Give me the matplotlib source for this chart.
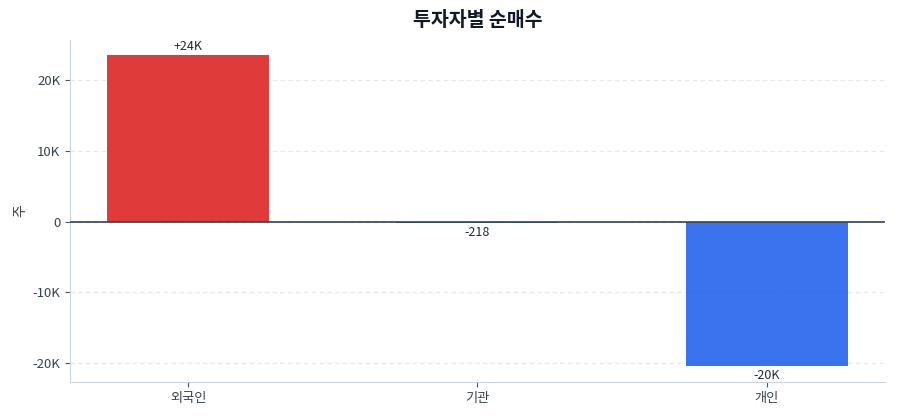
import matplotlib
matplotlib.use("Agg")
import matplotlib.pyplot as plt
from matplotlib.ticker import FuncFormatter

plt.rcParams['font.family'] = ['Noto Sans CJK KR', 'DejaVu Sans']

categories = ["외국인", "기관", "개인"]
values = [23500, -218, -20450]
bar_labels = ["+24K", "-218", "-20K"]

pos_color = "#dc2626"
neg_color = "#2563eb"

fig = plt.figure(figsize=(9, 4.2), dpi=100)
ax = fig.add_axes([0.078, 0.0905, 0.905, 0.8145])

colors = [pos_color if v >= 0 else neg_color for v in values]
x = range(len(categories))
bars = ax.bar(x, values, width=0.56, color=colors, alpha=0.9, zorder=2)
ax.axhline(0, color="#334155", linewidth=1.2, zorder=3)

for b, v, lab in zip(bars, values, bar_labels):
    if v >= 0:
        ax.annotate(lab, (b.get_x() + b.get_width() / 2, v), xytext=(0, 2),
                    textcoords="offset points", ha="center", va="bottom",
                    fontsize=9, color="#1f2937")
    else:
        ax.annotate(lab, (b.get_x() + b.get_width() / 2, v), xytext=(0, -2),
                    textcoords="offset points", ha="center", va="top",
                    fontsize=9, color="#1f2937")

ax.set_xticks(list(x))
ax.set_xticklabels(categories)

def kfmt(v, p):
    if v == 0:
        return "0"
    return f"{v/1000:.0f}K"
ax.yaxis.set_major_formatter(FuncFormatter(kfmt))
ax.set_yticks([-20000, -10000, 0, 10000, 20000])

ax.grid(axis="y", linestyle=(0, (4, 3)), color="#e5e7eb", linewidth=0.8, zorder=0)
ax.set_axisbelow(True)
for s in ["top", "right"]:
    ax.spines[s].set_visible(False)
for s in ["left", "bottom"]:
    ax.spines[s].set_color("#cbd5e1")
ax.tick_params(axis="both", colors="#475569", labelsize=9.5, labelcolor="#334155")
ax.set_ylabel("주", fontsize=10, color="#334155", labelpad=4)
ax.set_title("투자자별 순매수", fontsize=14, fontweight="bold", color="#111827", pad=10)

fig.savefig("out.png", dpi=100)
